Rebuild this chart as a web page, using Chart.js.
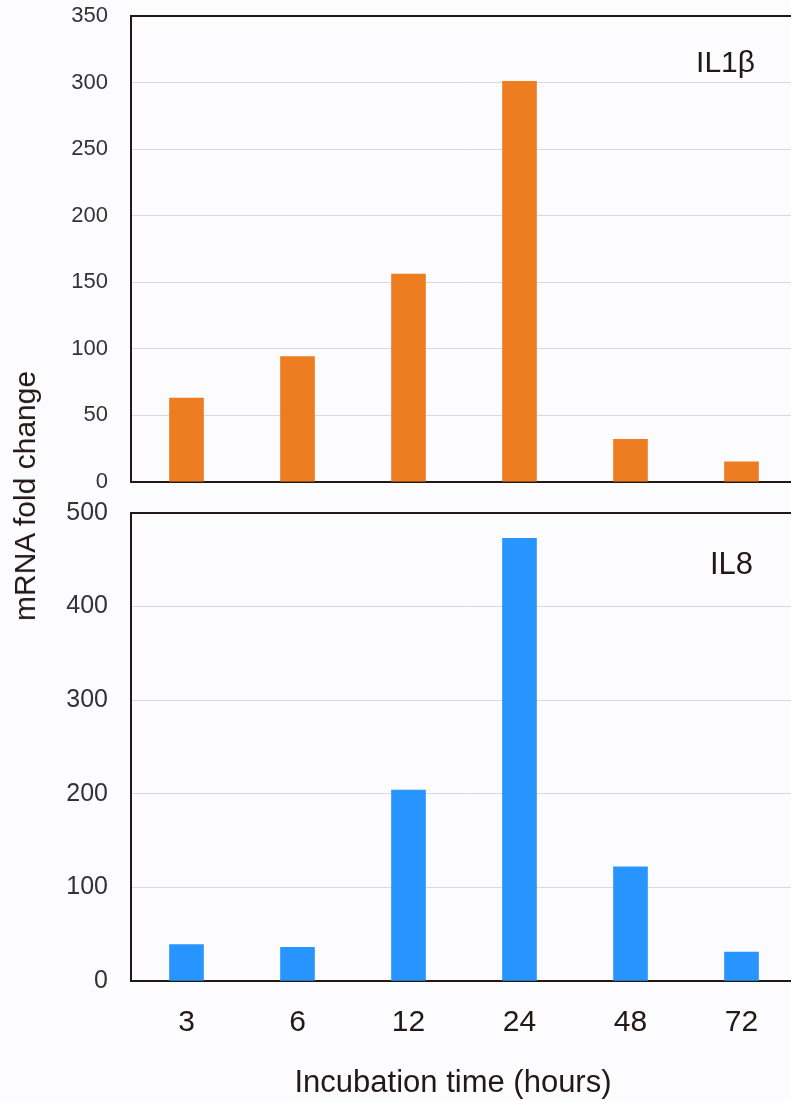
<!DOCTYPE html>
<html>
<head>
<meta charset="utf-8">
<script src="https://cdn.jsdelivr.net/npm/chart.js@4/dist/chart.umd.min.js"></script>
<style>
    body { margin: 0; overflow: hidden; background: #fcfcfe; }
    #wrap { position: relative; width: 791px; height: 1101px; overflow: hidden; }
    #topChart { position: absolute; left: 0; top: 0; }
    #bottomChart { position: absolute; left: 0; top: 495px; }
    #yTitle {
        position: absolute; left: 25px; top: 496px;
        transform: translate(-50%, -50%) rotate(-90deg);
        font: 30px "Liberation Sans", Arial, sans-serif; color: #231815;
        white-space: nowrap;
    }
    #xTitle {
        position: absolute; left: 453px; top: 1082px;
        transform: translate(-50%, -50%);
        font: 31px "Liberation Sans", Arial, sans-serif; color: #231815;
        white-space: nowrap;
    }
</style>
</head>
<body>
<div id="wrap">
    <canvas id="topChart" width="798" height="495"></canvas>
    <canvas id="bottomChart" width="798" height="606"></canvas>
    <div id="yTitle">mRNA fold change</div>
    <div id="xTitle">Incubation time (hours)</div>
</div>
<script>
// Data
const timeLabels = ['3', '6', '12', '24', '48', '72'];
const il1bValues = [63, 94, 156, 301, 32, 15];
const il8Values = [39, 36, 204, 473, 122, 31];
const il1bMax = 350, il1bStep = 50;
const il8Max = 500, il8Step = 100;

const axisColor = '#231815';
const gridColor = '#d9d9d9';
const fontFamily = '"Liberation Sans", Arial, sans-serif';

// Panel label (IL1β / IL8) drawn in the top right of each plot
const panelLabel = {
    id: 'panelLabel',
    afterDraw(chart, args, opts) {
        const ctx = chart.ctx;
        ctx.save();
        ctx.font = opts.size + 'px ' + fontFamily;
        ctx.fillStyle = axisColor;
        ctx.textAlign = 'right';
        ctx.textBaseline = 'middle';
        ctx.fillText(opts.text, opts.x, opts.y);
        ctx.restore();
    }
};

function makeChart(canvasId, values, color, maxVal, step, cfg) {
    return new Chart(document.getElementById(canvasId), {
        type: 'bar',
        data: {
            labels: timeLabels,
            datasets: [{
                data: values,
                backgroundColor: color,
                borderWidth: 0,
                barThickness: 34
            }]
        },
        options: {
            responsive: false,
            animation: false,
            layout: { padding: cfg.padding },
            plugins: {
                legend: { display: false },
                tooltip: { enabled: false },
                panelLabel: cfg.label
            },
            scales: {
                x: {
                    grid: { display: false, drawTicks: false },
                    border: { display: true, color: axisColor, width: 2 },
                    ticks: {
                        display: cfg.showX,
                        padding: 24,
                        color: axisColor,
                        font: { family: fontFamily, size: 30 }
                    },
                    afterFit: s => { s.height = cfg.xHeight; }
                },
                y: {
                    min: 0,
                    max: maxVal,
                    ticks: {
                        stepSize: step,
                        padding: 0,
                        color: '#333333',
                        font: { family: fontFamily, size: cfg.yFont }
                    },
                    grid: {
                        drawTicks: true,
                        tickLength: 23,
                        tickColor: 'transparent',
                        color: c => c.tick && c.tick.value === maxVal ? axisColor : gridColor,
                        lineWidth: c => c.tick && c.tick.value === maxVal ? 2 : 1
                    },
                    border: { display: true, color: axisColor, width: 2 },
                    afterFit: s => { s.width = 131; }
                }
            }
        },
        plugins: [panelLabel]
    });
}

makeChart('topChart', il1bValues, '#ee7d22', il1bMax, il1bStep, {
    padding: { top: 16, right: 1, bottom: 13, left: 0 },
    showX: false,
    xHeight: 0,
    yFont: 22,
    label: { text: 'IL1β', x: 755, y: 64, size: 30 }
});

makeChart('bottomChart', il8Values, '#2894ff', il8Max, il8Step, {
    padding: { top: 18, right: 1, bottom: 0, left: 0 },
    showX: true,
    xHeight: 120,
    yFont: 25,
    label: { text: 'IL8', x: 753, y: 70, size: 31 }
});
</script>
</body>
</html>
